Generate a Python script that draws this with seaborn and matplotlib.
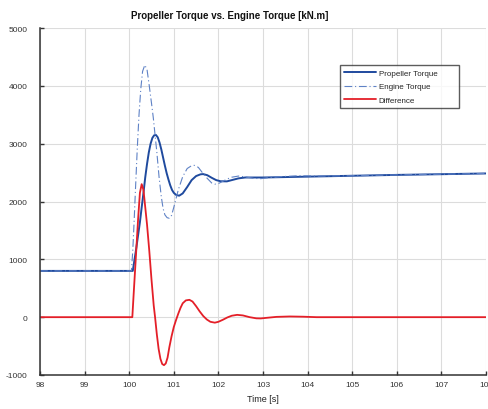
import matplotlib
matplotlib.use("Agg")
import matplotlib.pyplot as plt
import seaborn as sns
import pandas as pd

# ---- data ----
prop_t = [98.0, 100.08, 100.12, 100.16, 100.20, 100.24, 100.28, 100.32, 100.36, 100.40,
          100.44, 100.48, 100.52, 100.56, 100.60, 100.64, 100.68, 100.72, 100.76, 100.80,
          100.84, 100.88, 100.92, 100.96, 101.00, 101.05, 101.12, 101.20, 101.30, 101.40,
          101.50, 101.60, 101.66, 101.75, 101.85, 101.95, 102.05, 102.19, 102.30, 102.45,
          102.60, 102.80, 103.0, 104.0, 105.0, 106.0, 107.0, 108.0]
prop_v = [800, 800, 1000, 1200, 1420, 1640, 1900, 2150, 2420, 2650,
          2850, 3000, 3100, 3145, 3150, 3110, 3020, 2900, 2760, 2620,
          2490, 2380, 2280, 2200, 2150, 2115, 2100, 2140, 2250, 2370,
          2440, 2470, 2474, 2455, 2410, 2370, 2350, 2348, 2370, 2400,
          2415, 2415, 2415, 2430, 2445, 2460, 2472, 2485]

eng_t = [98.0, 100.05, 100.08, 100.11, 100.14, 100.18, 100.22, 100.26, 100.30, 100.35,
         100.40, 100.45, 100.50, 100.54, 100.58, 100.62, 100.67, 100.72, 100.76, 100.80,
         100.85, 100.90, 100.95, 101.00, 101.05, 101.10, 101.20, 101.30, 101.40, 101.46,
         101.55, 101.65, 101.75, 101.85, 101.92, 102.00, 102.10, 102.20, 102.30, 102.45,
         102.60, 102.80, 102.95, 103.10, 103.40, 103.80, 104.20, 105.0, 106.0, 107.0, 108.0]
eng_v = [800, 800, 1150, 1650, 2200, 2900, 3500, 3950, 4250, 4360,
         4280, 4000, 3700, 3450, 3150, 2850, 2420, 2080, 1880, 1770,
         1720, 1710, 1760, 1900, 2050, 2200, 2430, 2570, 2620, 2625,
         2590, 2490, 2400, 2320, 2300, 2310, 2350, 2390, 2420, 2440,
         2425, 2400, 2395, 2410, 2430, 2445, 2440, 2445, 2460, 2472, 2485]

diff_t = [98.0, 100.07, 100.10, 100.15, 100.20, 100.24, 100.28, 100.32, 100.36, 100.40,
          100.45, 100.50, 100.55, 100.58, 100.62, 100.66, 100.70, 100.74, 100.78, 100.82,
          100.86, 100.90, 100.95, 101.00, 101.05, 101.10, 101.15, 101.20, 101.27, 101.35,
          101.42, 101.50, 101.58, 101.66, 101.74, 101.82, 101.92, 102.00, 102.10, 102.20,
          102.30, 102.42, 102.55, 102.70, 102.85, 102.95, 103.10, 103.30, 103.60, 103.90,
          104.20, 108.0]
diff_v = [0, 0, 400, 1050, 1700, 2150, 2300, 2200, 1900, 1600,
          1150, 650, 200, 0, -300, -550, -720, -810, -830, -800,
          -700, -520, -330, -170, -50, 60, 160, 240, 290, 300,
          270, 190, 100, 20, -40, -80, -95, -80, -45, -5,
          25, 40, 30, 0, -20, -22, -10, 5, 12, 8,
          0, 0]

series_names = ["Propeller Torque", "Engine Torque", "Difference"]
title_text = "Propeller Torque vs. Engine Torque [kN.m]"
x_label = "Time [s]"
x_ticks = [98, 99, 100, 101, 102, 103, 104, 105, 106, 107, 108]
y_ticks = [-1000, 0, 1000, 2000, 3000, 4000, 5000]

sns.set_theme(style="white")
plt.rcParams['font.family'] = ['Liberation Sans', 'DejaVu Sans']

fig = plt.figure(figsize=(4.88, 4.10), dpi=100)
ax_l, ax_b, ax_w, ax_h = 40/488, 1 - 376/410, 446/488, (376 - 29)/410
ax = fig.add_axes([ax_l, ax_b, ax_w, ax_h])

sns.lineplot(x=prop_t, y=prop_v, ax=ax, color="#1f4a9e", lw=1.4,
             label=series_names[0], sort=False)
sns.lineplot(x=eng_t, y=eng_v, ax=ax, color="#5f82c6", lw=0.8,
             label=series_names[1], sort=False)
ax.lines[-1].set_linestyle((0, (7, 2.5, 1, 2.5)))
sns.lineplot(x=diff_t, y=diff_v, ax=ax, color="#e41f28", lw=1.3,
             label=series_names[2], sort=False)

ax.set_xlim(98, 108)
ax.set_ylim(-1000, 5000)
ax.set_xticks(x_ticks)
ax.set_yticks(y_ticks)
ax.set_xticklabels([str(v) for v in x_ticks])
ax.set_yticklabels([str(v) for v in y_ticks])

ax.grid(True, color="#dcdcdc", lw=0.8)
ax.set_axisbelow(True)
for s in ["top", "right"]:
    ax.spines[s].set_visible(False)
for s in ["left", "bottom"]:
    ax.spines[s].set_color("#333333")
    ax.spines[s].set_linewidth(1.1)

ax.tick_params(axis="both", direction="in", length=3, width=1, color="#333333",
               labelsize=6, labelcolor="#333333")
ax.tick_params(axis="x", pad=4, bottom=True)
ax.tick_params(axis="y", pad=9, left=True)

ax.set_xlabel(x_label, fontsize=6.5, color="#222222", labelpad=5)
ax.set_ylabel("")
fig.text(230/488, 1 - 16/410, title_text, fontsize=7, fontweight="bold",
         ha="center", va="center", color="#111111")

# legend box in pixel space: x 340..459, y 66..112
lx0 = (340 - 40) / 446
lw_ = (459 - 340) / 446
ly1 = (376 - 66) / 347
lh_ = (112 - 66) / 347
leg = ax.legend(loc="upper left", bbox_to_anchor=(lx0, ly1 - lh_, lw_, lh_),
                mode="expand", fontsize=5.8, frameon=True, fancybox=False,
                borderpad=0.5, borderaxespad=0.0,
                handlelength=4.0, handletextpad=0.3, labelspacing=0.75)
leg.get_frame().set_edgecolor("#333333")
leg.get_frame().set_linewidth(1.0)

fig.savefig("out.png", dpi=100)
